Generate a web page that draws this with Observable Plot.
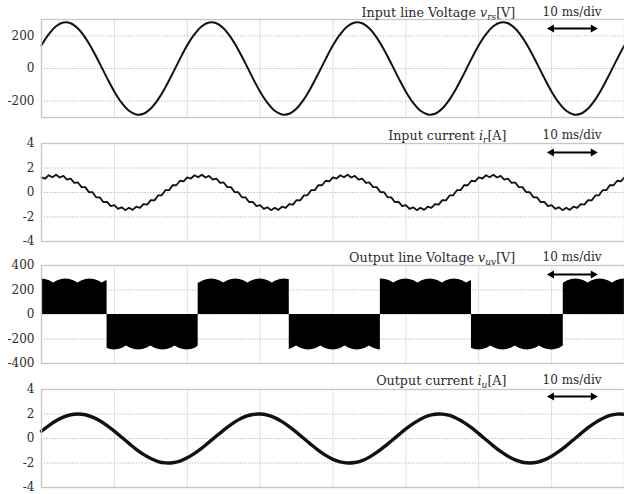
<!DOCTYPE html>
<html><head><meta charset="utf-8">
<script src="https://cdn.jsdelivr.net/npm/d3@7"></script>
<script src="https://cdn.jsdelivr.net/npm/@observablehq/plot@0.6"></script>
<style>
html,body{margin:0;padding:0;background:#fff;}
#chart{width:624px;height:494px;overflow:hidden;}
#chart svg{display:block;}
</style></head><body><div id="chart"></div>
<script>
// ---- data (time in ms) ----
const gridX = [10, 20, 30, 40, 50, 60, 70];
const arrowX = [70.0, 75.7];
const scaleLabel = "10 ms/div";
const scaleLabelX = 72.8;

// Input line voltage v_rs [V], sampled every 1 ms
const vrsStep = 1;
const vrs = [
  142,210,259,281,277,245,189,115,30,-59,-142,-210,-259,-281,-277,-245,-189,-115,-30,59,
  142,210,259,281,277,245,189,115,30,-59,-142,-210,-259,-281,-277,-245,-189,-115,-30,59,
  142,210,259,281,277,245,189,115,30,-59,-142,-210,-259,-281,-277,-245,-189,-115,-30,59,
  142,210,259,281,277,245,189,115,30,-59,-142,-210,-259,-281,-277,-245,-189,-115,-30,59,
  142
];

// Input current i_r [A], sampled every 0.5 ms
const irStep = 0.5;
const ir = [
  1.24,1.14,1.41,1.24,1.45,1.22,1.36,1.06,1.14,0.79,0.82,0.44,0.44,0.03,0.02,-0.39,-0.40,-0.79,-0.76,-1.11,
  -1.04,-1.34,-1.21,-1.44,-1.25,-1.42,-1.16,-1.26,-0.94,-0.99,-0.62,-0.64,-0.24,-0.23,0.19,0.19,0.60,0.59,0.96,0.91,
  1.24,1.14,1.41,1.24,1.45,1.22,1.36,1.06,1.14,0.79,0.82,0.44,0.44,0.03,0.02,-0.39,-0.40,-0.79,-0.76,-1.11,
  -1.04,-1.34,-1.21,-1.44,-1.25,-1.42,-1.16,-1.26,-0.94,-0.99,-0.62,-0.64,-0.24,-0.23,0.19,0.19,0.60,0.59,0.96,0.91,
  1.24,1.14,1.41,1.24,1.45,1.22,1.36,1.06,1.14,0.79,0.82,0.44,0.44,0.03,0.02,-0.39,-0.40,-0.79,-0.76,-1.11,
  -1.04,-1.34,-1.21,-1.44,-1.25,-1.42,-1.16,-1.26,-0.94,-0.99,-0.62,-0.64,-0.24,-0.23,0.19,0.19,0.60,0.59,0.96,0.91,
  1.24,1.14,1.41,1.24,1.45,1.22,1.36,1.06,1.14,0.79,0.82,0.44,0.44,0.03,0.02,-0.39,-0.40,-0.79,-0.76,-1.11,
  -1.04,-1.34,-1.21,-1.44,-1.25,-1.42,-1.16,-1.26,-0.94,-0.99,-0.62,-0.64,-0.24,-0.23,0.19,0.19,0.60,0.59,0.96,0.91,
  1.24
];

// Output line voltage v_uv [V]: envelope magnitude sampled every 5/9 ms, block edges
const uvStep = 5 / 9;
const uvEnv = [
  290,286,276,258,276,286, 290,286,276,258,276,286, 290,286,276,258,276,286, 290,286,276,258,276,286,
  290,286,276,258,276,286, 290,286,276,258,276,286, 290,286,276,258,276,286, 290,286,276,258,276,286,
  290,286,276,258,276,286, 290,286,276,258,276,286, 290,286,276,258,276,286, 290,286,276,258,276,286,
  290,286,276,258,276,286, 290,286,276,258,276,286, 290,286,276,258,276,286, 290,286,276,258,276,286,
  290,286,276,258,276,286, 290,286,276,258,276,286, 290,286,276,258,276,286, 290,286,276,258,276,286,
  290,286,276,258,276,286, 290,286,276,258,276,286, 290,286,276,258,276,286, 290,286,276,258,276,286,
  290
];
const uvEdges = [9.0, 21.5, 34.0, 46.5, 59.0, 71.6];
const uvFirstSign = 1;

// Output current i_u [A], sampled every 1 ms
const iuStep = 1;
const iu = [
  0.60,1.06,1.45,1.75,1.94,2.00,1.94,1.75,1.45,1.06,
  0.60,0.10,-0.40,-0.88,-1.30,-1.64,-1.88,-1.99,-1.98,-1.84,
  -1.58,-1.22,-0.79,-0.30,0.20,0.69,1.14,1.52,1.80,1.96,
  2.00,1.91,1.70,1.38,0.97,0.50,0.00,-0.50,-0.97,-1.38,
  -1.70,-1.91,-2.00,-1.96,-1.80,-1.52,-1.14,-0.69,-0.20,0.30,
  0.79,1.22,1.58,1.84,1.98,1.99,1.88,1.64,1.30,0.88,
  0.40,-0.10,-0.60,-1.06,-1.45,-1.75,-1.94,-2.00,-1.94,-1.75,
  -1.45,-1.06,-0.60,-0.10,0.40,0.88,1.30,1.64,1.88,1.99,
  1.98
];

const titles = [
  ["Input line Voltage ", "v", "rs", "[V]"],
  ["Input current ", "i", "r", "[A]"],
  ["Output line Voltage ", "v", "uv", "[V]"],
  ["Output current ", "i", "u", "[A]"]
];
const titleX = [65.0, 63.8, 65.0, 63.8];

// ---- build series ----
const series = (vals, step) => vals.map((v, i) => ({t: i * step, v}));
const vrsData = series(vrs, vrsStep);
const irData = series(ir, irStep);
const iuData = series(iu, iuStep);

const uvData = [];
{
  let sign = uvFirstSign, k = 0;
  uvEnv.forEach((m, n) => {
    const t = n * uvStep;
    while (k < uvEdges.length && uvEdges[k] <= t) {
      const e = uvEdges[k];
      const mag = uvEnv[Math.round(e / uvStep)];
      uvData.push({t: e, v: sign * mag});
      sign = -sign;
      uvData.push({t: e, v: sign * mag});
      k++;
    }
    uvData.push({t, v: sign * m});
  });
}

const INK = "#111";
const TXT = "#2b2b2b";

function panel(cfg) {
  const top = cfg.domain[1];
  const svg = Plot.plot({
    width: 624, height: cfg.height,
    marginTop: 19, marginBottom: cfg.height - 19 - 98, marginLeft: 41, marginRight: 0,
    style: {fontFamily: "'DejaVu Serif', serif", fontSize: "12px", color: TXT, background: "#fff", overflow: "visible"},
    x: {domain: [0, 80], axis: null},
    y: {domain: cfg.domain, ticks: cfg.ticks, tickSize: 0, tickPadding: 7, tickFormat: d => String(d), label: null},
    marks: [
      Plot.ruleX(gridX, {stroke: "#e0e0e0", strokeWidth: 1}),
      Plot.ruleY(cfg.grid, {stroke: "#b4b4b4", strokeWidth: 1, strokeDasharray: "1.2,1.6"}),
      ...cfg.marks,
      Plot.frame({stroke: "#c6c6c6", strokeWidth: 1.3}),
      Plot.text([cfg.title], {x: cfg.titleX, y: top, dy: cfg.titleDy, text: d => d.join(""), textAnchor: "end", lineAnchor: "middle", fontSize: 12.7, fill: TXT}),
      Plot.text([scaleLabel], {x: scaleLabelX, y: top, dy: cfg.titleDy, text: d => d, textAnchor: "middle", lineAnchor: "middle", fontSize: 12, fill: TXT}),
      Plot.link([0], {x1: arrowX[0], x2: arrowX[1], y1: top, y2: top, dy: cfg.arrowDy, stroke: "#000", strokeWidth: 2}),
      Plot.dot(arrowX, {x: d => d, y: top, dy: cfg.arrowDy, symbol: "triangle", r: 3, fill: "#000", rotate: (d, i) => i === 0 ? -90 : 90})
    ]
  });
  const full = cfg.title.join("");
  const t = Array.from(svg.querySelectorAll("text")).find(el => el.textContent === full);
  if (t) {
    while (t.firstChild) t.removeChild(t.firstChild);
    const add = (s, attrs = {}) => {
      const ts = document.createElementNS("http://www.w3.org/2000/svg", "tspan");
      ts.textContent = s;
      for (const k in attrs) ts.setAttribute(k, attrs[k]);
      t.appendChild(ts);
    };
    add(cfg.title[0]);
    add(cfg.title[1], {"font-style": "italic"});
    add(cfg.title[2], {"font-style": "italic", "font-size": "9", "dy": "3"});
    add(cfg.title[3], {"dy": "-3"});
  }
  return svg;
}

const chart = document.getElementById("chart");
chart.append(
  panel({height: 124, domain: [-300, 300], ticks: [-200, 0, 200], grid: [-200, 0, 200], title: titles[0], titleX: titleX[0], titleDy: -7, arrowDy: 9,
    marks: [Plot.line(vrsData, {x: "t", y: "v", stroke: INK, strokeWidth: 2, curve: "catmull-rom"})]}),
  panel({height: 122, domain: [-4, 4], ticks: [-4, -2, 0, 2, 4], grid: [-2, 0, 2], title: titles[1], titleX: titleX[1], titleDy: -8, arrowDy: 9,
    marks: [Plot.line(irData, {x: "t", y: "v", stroke: INK, strokeWidth: 1.8, curve: "linear", strokeLinejoin: "round"})]}),
  panel({height: 124, domain: [-400, 400], ticks: [-400, -200, 0, 200, 400], grid: [-200, 0, 200], title: titles[2], titleX: titleX[2], titleDy: -8, arrowDy: 9,
    marks: [Plot.areaY(uvData, {x: "t", y: "v", fill: "#000", curve: "linear"})]}),
  panel({height: 124, domain: [-4, 4], ticks: [-4, -2, 0, 2, 4], grid: [-2, 0, 2], title: titles[3], titleX: titleX[3], titleDy: -9, arrowDy: 7,
    marks: [Plot.line(iuData, {x: "t", y: "v", stroke: INK, strokeWidth: 3.4, curve: "catmull-rom"})]})
);
</script></body></html>
